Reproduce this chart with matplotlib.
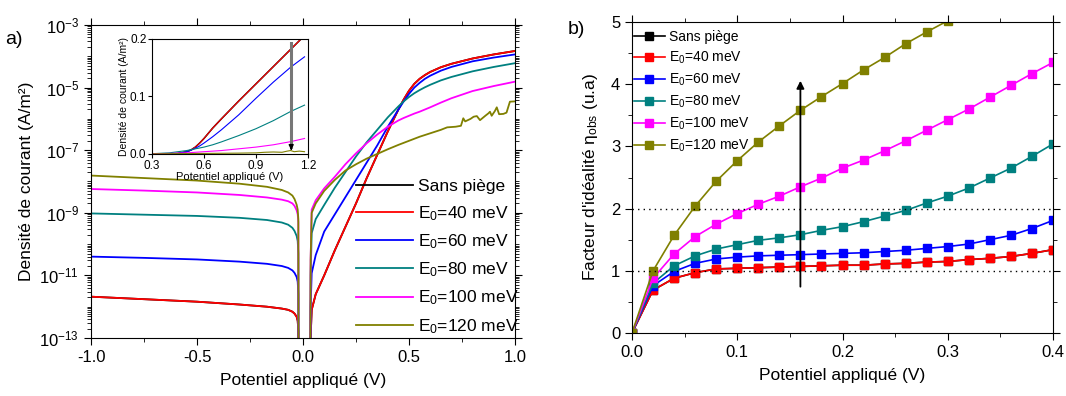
import numpy as np
import matplotlib
matplotlib.use("Agg")
import matplotlib.pyplot as plt
from matplotlib.ticker import MultipleLocator, LogLocator, NullFormatter, FixedLocator

plt.rcParams['font.family'] = ['Liberation Sans', 'DejaVu Sans']
plt.rcParams['mathtext.fontset'] = 'custom'
plt.rcParams['mathtext.rm'] = 'Liberation Sans'
plt.rcParams['mathtext.it'] = 'Liberation Sans:italic'

# ---------------- Panel a data (log10 of |J| in A/m^2) ----------------
labels = ["Sans piège", "E$_0$=40 meV", "E$_0$=60 meV", "E$_0$=80 meV",
          "E$_0$=100 meV", "E$_0$=120 meV"]
colors = ["#000000", "#FF0000", "#0000FF", "#008080", "#FF00FF", "#808000"]

V_rev = [-1.0, -0.75, -0.5, -0.3, -0.17, -0.1, -0.07, -0.05, -0.04, -0.03, -0.025, -0.022, -0.021]
logJ_rev_40 = [-11.68, -11.76, -11.84, -11.93, -12.0, -12.06, -12.1, -12.16, -12.22, -12.32, -12.45, -12.8, -14]
logJ_rev_60 = [-10.40, -10.44, -10.49, -10.56, -10.63, -10.70, -10.76, -10.84, -10.92, -11.05, -11.2, -11.6, -14]
logJ_rev_80 = [-9.02, -9.06, -9.10, -9.16, -9.23, -9.31, -9.38, -9.48, -9.58, -9.74, -9.9, -10.3, -14]
logJ_rev_100 = [-8.24, -8.29, -8.35, -8.43, -8.51, -8.58, -8.63, -8.70, -8.78, -8.92, -9.05, -9.3, -14]
logJ_rev_120 = [-7.81, -7.89, -7.97, -8.07, -8.17, -8.27, -8.35, -8.45, -8.56, -8.74, -8.9, -9.2, -14]
logJ_rev_0 = logJ_rev_40

V_fwd = [0.034, 0.036, 0.041, 0.06, 0.1, 0.15, 0.2, 0.25, 0.3, 0.35, 0.4, 0.45, 0.475, 0.5,
         0.525, 0.55, 0.575, 0.6, 0.65, 0.7, 0.8, 0.9, 1.0]
logJ_fwd_40 = [-14, -13, -12.1, -11.6, -11.0, -10.2, -9.45, -8.7, -7.9, -7.15, -6.4, -5.7, -5.38, -5.1,
               -4.88, -4.72, -4.6, -4.5, -4.35, -4.24, -4.07, -3.94, -3.83]
logJ_fwd_60 = [-14, -12, -10.93, -10.35, -9.6, -9.05, -8.5, -7.95, -7.4, -6.85, -6.25, -5.7, -5.44, -5.2,
               -5.0, -4.85, -4.72, -4.62, -4.46, -4.34, -4.16, -4.04, -3.94]
logJ_fwd_80 = [-14, -11, -9.65, -9.2, -8.75, -8.2, -7.7, -7.2, -6.75, -6.35, -5.95, -5.6, -5.44, -5.3,
               -5.18, -5.08, -4.99, -4.91, -4.77, -4.66, -4.48, -4.34, -4.22]
logJ_fwd_100 = [-14, -10.5, -8.9, -8.6, -8.22, -7.85, -7.45, -7.1, -6.78, -6.5, -6.25, -6.05, -5.97, -5.9,
                -5.83, -5.77, -5.70, -5.63, -5.48, -5.34, -5.11, -4.95, -4.81]
logJ_fwd_0 = logJ_fwd_40

V_fwd_120 = [0.034, 0.036, 0.041, 0.06, 0.1, 0.15, 0.2, 0.25, 0.3, 0.35, 0.4, 0.45, 0.5, 0.55, 0.6,
             0.65, 0.68, 0.72, 0.745, 0.756, 0.765, 0.79, 0.805, 0.82, 0.835, 0.86, 0.875, 0.882,
             0.89, 0.905, 0.914, 0.925, 0.945, 0.96, 0.976, 1.0]
logJ_fwd_120 = [-14, -10.5, -9.0, -8.7, -8.3, -7.95, -7.65, -7.45, -7.27, -7.12, -6.97, -6.83, -6.7, -6.57, -6.46,
                -6.35, -6.27, -6.25, -6.22, -5.98, -6.08, -6.0, -5.93, -5.91, -6.04, -5.9, -5.82, -5.77,
                -5.9, -5.75, -5.63, -5.85, -5.84, -5.8, -5.45, -5.44]

# ---------------- Inset data (linear J, A/m^2) ----------------
V_in = [0.3, 0.4, 0.45, 0.5, 0.525, 0.55, 0.575, 0.6, 0.65, 0.7, 0.8, 0.9, 1.0, 1.1, 1.18]
J_in_40 = [0.0, 0.0003, 0.001, 0.004, 0.007, 0.012, 0.019, 0.027, 0.045, 0.061, 0.092, 0.122, 0.152, 0.182, 0.206]
J_in_60 = [0.0, 0.0003, 0.001, 0.004, 0.0065, 0.010, 0.014, 0.019, 0.030, 0.042, 0.068, 0.097, 0.125, 0.151, 0.169]
J_in_80 = [0.0005, 0.002, 0.004, 0.006, 0.0075, 0.009, 0.0105, 0.012, 0.016, 0.021, 0.032, 0.044, 0.058, 0.074, 0.085]
J_in_100 = [0.0005, 0.001, 0.0015, 0.002, 0.0025, 0.003, 0.0035, 0.004, 0.005, 0.006, 0.009, 0.012, 0.016, 0.0215, 0.027]
J_in_0 = J_in_40
V_in_120 = [0.3, 0.6, 0.8, 0.9, 0.95, 1.0, 1.05, 1.08, 1.1, 1.12, 1.15, 1.18]
J_in_120 = [0.0003, 0.001, 0.0015, 0.002, 0.003, 0.0035, 0.003, 0.005, 0.006, 0.004, 0.005, 0.004]

# ---------------- Panel b data ----------------
V_b = [0.0, 0.02, 0.04, 0.06, 0.08, 0.10, 0.12, 0.14, 0.16, 0.18, 0.20,
       0.22, 0.24, 0.26, 0.28, 0.30, 0.32, 0.34, 0.36, 0.38, 0.40]
eta_40 = [0.0, 0.69, 0.88, 0.97, 1.03, 1.04, 1.05, 1.06, 1.07, 1.08, 1.09, 1.09, 1.11, 1.12, 1.14,
          1.15, 1.18, 1.20, 1.23, 1.28, 1.34]
eta_60 = [0.0, 0.76, 0.99, 1.12, 1.19, 1.22, 1.24, 1.25, 1.26, 1.27, 1.28, 1.29, 1.31, 1.33, 1.36,
          1.39, 1.43, 1.50, 1.57, 1.68, 1.81]
eta_80 = [0.0, 0.80, 1.08, 1.24, 1.35, 1.42, 1.49, 1.53, 1.58, 1.65, 1.71, 1.79, 1.88, 1.97, 2.09,
          2.20, 2.33, 2.49, 2.65, 2.84, 3.04]
eta_100 = [0.0, 0.88, 1.27, 1.55, 1.75, 1.92, 2.07, 2.20, 2.35, 2.49, 2.65, 2.78, 2.93, 3.09, 3.26,
           3.43, 3.60, 3.79, 3.98, 4.17, 4.35]
eta_120 = [0.0, 1.0, 1.57, 2.04, 2.44, 2.77, 3.07, 3.33, 3.58, 3.80, 4.01, 4.23, 4.43, 4.65, 4.84, 5.02]
eta_0 = eta_40

W, H = 1066, 396
fig = plt.figure(figsize=(W / 100, H / 100), dpi=100)

def fr(x0, x1, y0, y1):
    return [x0 / W, 1 - y1 / H, (x1 - x0) / W, (y1 - y0) / H]

# ================= Panel a =================
ax = fig.add_axes(fr(91, 515, 25, 338))
rev = [logJ_rev_0, logJ_rev_40, logJ_rev_60, logJ_rev_80, logJ_rev_100, logJ_rev_120]
fwd = [logJ_fwd_0, logJ_fwd_40, logJ_fwd_60, logJ_fwd_80, logJ_fwd_100]
for i in range(6):
    lw = 1.3
    ax.plot(V_rev, 10 ** np.array(rev[i]), color=colors[i], lw=lw, label=labels[i])
    if i < 5:
        ax.plot(V_fwd, 10 ** np.array(fwd[i]), color=colors[i], lw=lw)
    else:
        ax.plot(V_fwd_120, 10 ** np.array(logJ_fwd_120), color=colors[i], lw=lw)
ax.set_yscale('log')
ax.set_xlim(-1, 1)
ax.set_ylim(1e-13, 1e-3)
ax.yaxis.set_major_locator(FixedLocator([10.0 ** k for k in range(-13, -2, 2)]))
ax.yaxis.set_minor_locator(LogLocator(base=10, subs=np.arange(1, 10), numticks=30))
ax.yaxis.set_minor_formatter(NullFormatter())
ax.xaxis.set_major_locator(MultipleLocator(0.5))
ax.xaxis.set_minor_locator(MultipleLocator(0.25))
ax.tick_params(which='both', direction='out', top=True, right=True, labelsize=12)
ax.tick_params(which='major', length=5)
ax.tick_params(which='minor', length=3)
ax.set_xlabel("Potentiel appliqué (V)", fontsize=12.5, labelpad=6)
ax.set_ylabel("Densité de courant (A/m²)", fontsize=12.5, labelpad=4)
ax.xaxis.set_major_formatter(plt.FuncFormatter(lambda v, p: f"{v:.1f}"))
ax.legend(loc='lower right', frameon=False, fontsize=12.5, handlelength=3.3,
          labelspacing=0.55, borderaxespad=0.1, handletextpad=0.3,
          bbox_to_anchor=(1.03, -0.02))
fig.text(5 / W, 1 - 40 / H, "a)", fontsize=14, va='center')

# ---- inset ----
axi = fig.add_axes(fr(152, 308, 39, 154))
ins = [J_in_0, J_in_40, J_in_60, J_in_80, J_in_100]
for i in range(5):
    axi.plot(V_in, ins[i], color=colors[i], lw=1.1 if i == 0 else 0.8)
axi.plot(V_in_120, J_in_120, color=colors[5], lw=0.8)
axi.set_xlim(0.3, 1.2)
axi.set_ylim(0, 0.2)
axi.xaxis.set_major_locator(MultipleLocator(0.3))
axi.yaxis.set_major_locator(MultipleLocator(0.1))
axi.xaxis.set_major_formatter(plt.FuncFormatter(lambda v, p: f"{v:.1f}"))
axi.yaxis.set_major_formatter(plt.FuncFormatter(lambda v, p: f"{v:.1f}"))
axi.tick_params(labelsize=8.5, direction='out', length=3, pad=1)
axi.set_xlabel("Potentiel appliqué (V)", fontsize=8, labelpad=0)
axi.set_ylabel("Densité de courant (A/m²)", fontsize=7.5, labelpad=1)
axi.plot([1.103, 1.103], [0.193, 0.012], color='#777777', lw=2.2)
axi.annotate('', xy=(1.103, 0.002), xytext=(1.103, 0.014),
             arrowprops=dict(arrowstyle='-|>', color='black', lw=1, mutation_scale=7))

# ================= Panel b =================
bx = fig.add_axes(fr(632, 1053, 22, 333))
etas = [eta_0, eta_40, eta_60, eta_80, eta_100, eta_120]
for i in range(6):
    n = len(etas[i])
    bx.plot(V_b[:n], etas[i], color=colors[i], lw=1.2, marker='s', markersize=5.5,
            label=labels[i], clip_on=True)
bx.axhline(1, color='black', ls=(0, (1, 3)), lw=1)
bx.axhline(2, color='black', ls=(0, (1, 3)), lw=1)
bx.annotate('', xy=(0.16, 4.1), xytext=(0.16, 0.7),
            arrowprops=dict(arrowstyle='-|>', color='black', lw=1.3, mutation_scale=11))
bx.set_xlim(0, 0.4)
bx.set_ylim(0, 5)
bx.xaxis.set_major_locator(MultipleLocator(0.1))
bx.xaxis.set_minor_locator(MultipleLocator(0.05))
bx.yaxis.set_major_locator(MultipleLocator(1))
bx.yaxis.set_minor_locator(MultipleLocator(0.5))
bx.xaxis.set_major_formatter(plt.FuncFormatter(lambda v, p: f"{v:.1f}"))
bx.tick_params(which='both', direction='out', top=True, right=True, labelsize=12)
bx.tick_params(which='major', length=5)
bx.tick_params(which='minor', length=3)
bx.set_xlabel("Potentiel appliqué (V)", fontsize=12.5, labelpad=6)
bx.set_ylabel("Facteur d'idéalité η$_{\\mathregular{obs}}$ (u.a)", fontsize=12.5, labelpad=8)
bx.legend(loc='upper left', frameon=False, fontsize=10, handlelength=2.2,
          labelspacing=0.4, borderaxespad=0.2, handletextpad=0.3,
          bbox_to_anchor=(-0.015, 1.0))
fig.text(568 / W, 1 - 30 / H, "b)", fontsize=14, va='center')

fig.savefig("out.png", dpi=100)
